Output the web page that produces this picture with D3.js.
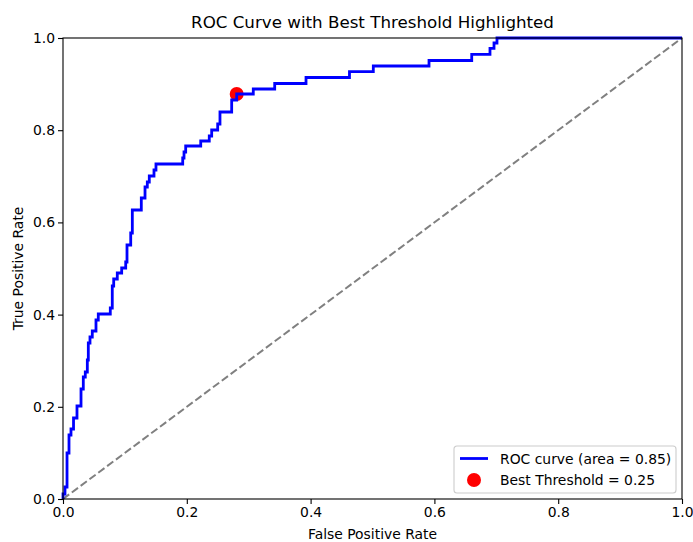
<!DOCTYPE html>
<html>
<head>
<meta charset="utf-8">
<script src="https://d3js.org/d3.v7.min.js"></script>
<style>
  body { margin: 0; background: #fff; }
  svg { display: block; font-family: "DejaVu Sans", sans-serif; }
</style>
</head>
<body>
<div id="chart"></div>
<script>
// ROC corner points
const fpr = [0, 0, 0.0032, 0.0032, 0.0065, 0.0065, 0.0097, 0.0097, 0.0129, 0.0129,
  0.0170, 0.0170, 0.0226, 0.0226, 0.0291, 0.0291, 0.0328, 0.0328, 0.0360, 0.0360,
  0.0393, 0.0393, 0.0409, 0.0409, 0.0436, 0.0436, 0.0473, 0.0473, 0.0533, 0.0533,
  0.0570, 0.0570, 0.0764, 0.0764, 0.0796, 0.0796, 0.0819, 0.0819, 0.0877, 0.0877,
  0.0948, 0.0948, 0.1013, 0.1013, 0.1034, 0.1034, 0.1094, 0.1094, 0.1120, 0.1120,
  0.1265, 0.1265, 0.1325, 0.1325, 0.1362, 0.1362, 0.1394, 0.1394, 0.1470, 0.1470,
  0.1502, 0.1502, 0.1934, 0.1934, 0.1955, 0.1955, 0.1982, 0.1982, 0.2225, 0.2225,
  0.2363, 0.2363, 0.2402, 0.2402, 0.2499, 0.2499, 0.2536, 0.2536, 0.2725, 0.2725,
  0.2806, 0.2806, 0.3074, 0.3074, 0.3420, 0.3420, 0.3926, 0.3926, 0.4628, 0.4628,
  0.5013, 0.5013, 0.5913, 0.5913, 0.6603, 0.6603, 0.6898, 0.6898, 0.6963, 0.6963,
  0.7011, 0.7011, 1];
const tpr = [0, 0.0108, 0.0108, 0.0260, 0.0260, 0.0998, 0.0998, 0.1388, 0.1388, 0.1518,
  0.1518, 0.1757, 0.1757, 0.2017, 0.2017, 0.2386, 0.2386, 0.2646, 0.2646, 0.2755,
  0.2755, 0.3015, 0.3015, 0.3384, 0.3384, 0.3514, 0.3514, 0.3644, 0.3644, 0.3883,
  0.3883, 0.4013, 0.4013, 0.4143, 0.4143, 0.4620, 0.4620, 0.4772, 0.4772, 0.4902,
  0.4902, 0.5011, 0.5011, 0.5141, 0.5141, 0.5510, 0.5510, 0.5770, 0.5770, 0.6269,
  0.6269, 0.6529, 0.6529, 0.6768, 0.6768, 0.6876, 0.6876, 0.7007, 0.7007, 0.7137,
  0.7137, 0.7267, 0.7267, 0.7397, 0.7397, 0.7527, 0.7527, 0.7657, 0.7657, 0.7766,
  0.7766, 0.7874, 0.7874, 0.8004, 0.8004, 0.8134, 0.8134, 0.8395, 0.8395, 0.8655,
  0.8655, 0.8785, 0.8785, 0.8894, 0.8894, 0.9013, 0.9013, 0.9143, 0.9143, 0.9270,
  0.9270, 0.9393, 0.9393, 0.9512, 0.9512, 0.9646, 0.9646, 0.9776, 0.9776, 0.9892,
  0.9892, 1, 1];
const bestPoint = [0.2806, 0.8785];
const aucValue = 0.85;
const bestThreshold = 0.25;
const ticks = [0, 0.2, 0.4, 0.6, 0.8, 1.0];

const width = 693, height = 542;
const margin = { top: 38, right: 11, bottom: 43, left: 63 };

const svg = d3.select("#chart").append("svg")
  .attr("width", width).attr("height", height);

const x = d3.scaleLinear().domain([0, 1]).range([margin.left, width - margin.right]);
const y = d3.scaleLinear().domain([0, 1]).range([height - margin.bottom, margin.top]);

// 对角参考线
svg.append("line")
  .attr("x1", x(0)).attr("y1", y(0))
  .attr("x2", x(1)).attr("y2", y(1))
  .attr("stroke", "gray").attr("stroke-width", 2)
  .attr("stroke-dasharray", "7.7,3.3");

// 最佳阈值点（画在线下面，和 matplotlib 的 zorder 一致）
svg.append("circle")
  .attr("cx", x(bestPoint[0])).attr("cy", y(bestPoint[1]))
  .attr("r", 7).attr("fill", "red");

const pts = fpr.map((f, i) => [f, tpr[i]]);
svg.append("path")
  .datum(pts)
  .attr("d", d3.line().x(d => x(d[0])).y(d => y(d[1])))
  .attr("fill", "none").attr("stroke", "blue")
  .attr("stroke-width", 2.8).attr("stroke-linejoin", "miter");

// 坐标轴
const fmt = d3.format(".1f");
const xAxis = svg.append("g")
  .attr("transform", `translate(0,${y(0)})`)
  .call(d3.axisBottom(x).tickValues(ticks).tickFormat(fmt).tickSize(5).tickSizeOuter(0));
const yAxis = svg.append("g")
  .attr("transform", `translate(${x(0)},0)`)
  .call(d3.axisLeft(y).tickValues(ticks).tickFormat(fmt).tickSize(5).tickSizeOuter(0));
[xAxis, yAxis].forEach(g => {
  g.select(".domain").remove();
  g.selectAll("line").attr("stroke", "#000").attr("stroke-width", 1.1);
  g.selectAll("text").attr("font-size", 13.9).attr("fill", "#000")
    .attr("font-family", "DejaVu Sans");
});
xAxis.selectAll("text").attr("dy", "0.71em").attr("y", 8);
yAxis.selectAll("text").attr("x", -8);

// 边框
svg.append("rect")
  .attr("x", x(0)).attr("y", y(1))
  .attr("width", x(1) - x(0)).attr("height", y(0) - y(1))
  .attr("fill", "none").attr("stroke", "#000").attr("stroke-width", 1.1);

// 标题和轴标签
svg.append("text")
  .attr("x", (x(0) + x(1)) / 2).attr("y", 28)
  .attr("text-anchor", "middle").attr("font-size", 16.7)
  .text("ROC Curve with Best Threshold Highlighted");
svg.append("text")
  .attr("x", (x(0) + x(1)) / 2).attr("y", 539)
  .attr("text-anchor", "middle").attr("font-size", 13.9)
  .text("False Positive Rate");
svg.append("text")
  .attr("transform", `translate(23,${(y(0) + y(1)) / 2}) rotate(-90)`)
  .attr("text-anchor", "middle").attr("font-size", 13.9)
  .text("True Positive Rate");

// 图例
const lg = svg.append("g").attr("transform", "translate(454,446)");
lg.append("rect")
  .attr("width", 222).attr("height", 47).attr("rx", 3)
  .attr("fill", "white").attr("fill-opacity", 0.8)
  .attr("stroke", "#ccc").attr("stroke-width", 1.1);
lg.append("line")
  .attr("x1", 6).attr("x2", 34).attr("y1", 12.5).attr("y2", 12.5)
  .attr("stroke", "blue").attr("stroke-width", 2.8);
lg.append("circle").attr("cx", 20).attr("cy", 34).attr("r", 7).attr("fill", "red");
lg.append("text").attr("x", 46).attr("y", 17.5).attr("font-size", 13.9)
  .text(`ROC curve (area = ${aucValue.toFixed(2)})`);
lg.append("text").attr("x", 46).attr("y", 39).attr("font-size", 13.9)
  .text(`Best Threshold = ${bestThreshold.toFixed(2)}`);
</script>
</body>
</html>
